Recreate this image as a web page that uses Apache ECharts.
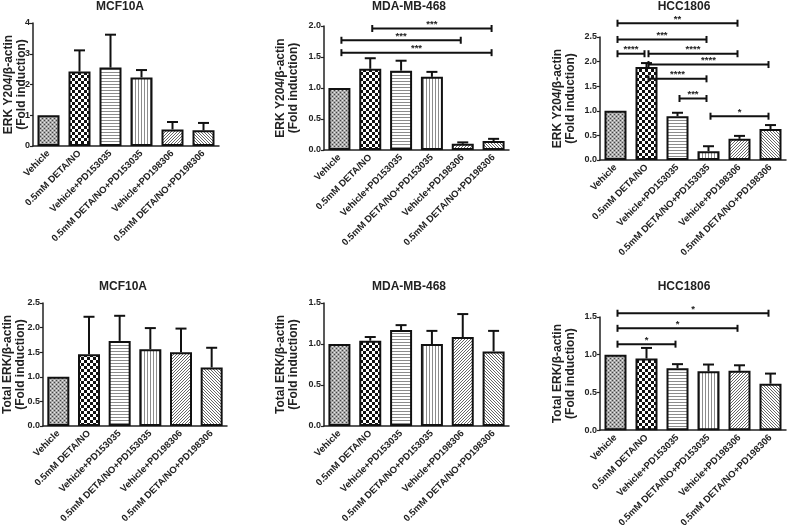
<!DOCTYPE html>
<html>
<head>
<meta charset="utf-8">
<script src="https://cdn.jsdelivr.net/npm/echarts@6/dist/echarts.min.js"></script>
<style>
  html, body { margin: 0; padding: 0; background: #fff; }
  #chart { width: 787px; height: 530px; }
</style>
</head>
<body>
<div id="chart"></div>
<script>
// treatment groups (x categories)
const groups = ['Vehicle', '0.5mM DETA/NO', 'Vehicle+PD153035', '0.5mM DETA/NO+PD153035', 'Vehicle+PD198306', '0.5mM DETA/NO+PD198306']

// ERK Y204 / beta-actin, mean and SEM
const mcfPhospho = [1.0, 2.42, 2.55, 2.23, 0.54, 0.51]
const mcfPhosphoErr = [0, 0.69, 1.07, 0.24, 0.24, 0.24]
const mdaPhospho = [1.0, 1.31, 1.28, 1.18, 0.1, 0.145]
const mdaPhosphoErr = [0, 0.17, 0.16, 0.08, 0.023, 0.035]
const hccPhospho = [1.0, 1.89, 0.89, 0.18, 0.43, 0.63]
const hccPhosphoErr = [0, 0.08, 0.07, 0.1, 0.06, 0.08]

// total ERK / beta-actin, mean and SEM
const mcfTotal = [1.0, 1.46, 1.73, 1.56, 1.5, 1.19]
const mcfTotalErr = [0, 0.76, 0.51, 0.43, 0.48, 0.4]
const mdaTotal = [1.0, 1.04, 1.17, 1.0, 1.085, 0.91]
const mdaTotalErr = [0, 0.045, 0.06, 0.16, 0.28, 0.25]
const hccTotal = [1.0, 0.95, 0.82, 0.78, 0.786, 0.616]
const hccTotalErr = [0, 0.14, 0.055, 0.09, 0.074, 0.134]

// significance brackets: [from group, to group, height, label]
const mdaPhosphoSig = [[1, 5, 1.96, '***'], [0, 4, 1.77, '***'], [0, 5, 1.57, '***']]
const hccPhosphoSig = [
  [0, 4, 2.78, '**'], [0, 3, 2.45, '***'], [0, 1, 2.16, '****'], [1, 4, 2.16, '****'],
  [1, 5, 1.94, '****'], [1, 3, 1.65, '****'], [2, 3, 1.25, '***'], [3, 5, 0.89, '*']
]
const hccTotalSig = [[0, 5, 1.55, '*'], [0, 4, 1.35, '*'], [0, 2, 1.14, '*']]

const FONT = '"Liberation Sans", Arial, sans-serif'

// fill patterns, one per treatment (like the GraphPad fills)
function makeTile(w, h, draw) {
  const c = document.createElement('canvas')
  c.width = w; c.height = h
  const ctx = c.getContext('2d')
  ctx.fillStyle = '#fff'
  ctx.fillRect(0, 0, w, h)
  draw(ctx)
  return { image: c, repeat: 'repeat' }
}
const fills = [
  makeTile(4, 4, ctx => {
    ctx.fillStyle = '#a8a8a8'; ctx.fillRect(0, 0, 4, 4)
    ctx.fillStyle = '#444'
    ctx.fillRect(0, 0, 1, 1); ctx.fillRect(2, 2, 1, 1)
    ctx.fillStyle = '#e8e8e8'
    ctx.fillRect(2, 0, 1, 1); ctx.fillRect(0, 2, 1, 1)
  }),
  makeTile(6, 6, ctx => {
    ctx.fillStyle = '#111'
    ctx.fillRect(0, 0, 3, 3); ctx.fillRect(3, 3, 3, 3)
  }),
  makeTile(3, 3, ctx => { ctx.fillStyle = '#8c8c8c'; ctx.fillRect(0, 0, 3, 1) }),
  makeTile(3, 3, ctx => { ctx.fillStyle = '#8c8c8c'; ctx.fillRect(0, 0, 1, 3) }),
  makeTile(3, 3, ctx => {
    ctx.fillStyle = '#666'
    ctx.fillRect(2, 0, 1, 1); ctx.fillRect(1, 1, 1, 1); ctx.fillRect(0, 2, 1, 1)
  }),
  makeTile(3, 3, ctx => {
    ctx.fillStyle = '#666'
    ctx.fillRect(0, 0, 1, 1); ctx.fillRect(1, 1, 1, 1); ctx.fillRect(2, 2, 1, 1)
  })
]

const phosName = 'ERK Y204/\u03b2-actin\n(Fold induction)'
const totalName = 'Total ERK/\u03b2-actin\n(Fold induction)'

const panels = [
  { title: 'MCF10A', name: phosName, values: mcfPhospho, err: mcfPhosphoErr, sig: [], max: 4, interval: 1, digits: 0,
    grid: { left: 33, top: 23, width: 186, height: 123 }, gap: 5, titleX: 120, titleY: 1 },
  { title: 'MDA-MB-468', name: phosName, values: mdaPhospho, err: mdaPhosphoErr, sig: mdaPhosphoSig, max: 2, interval: 0.5, digits: 1,
    grid: { left: 324, top: 26, width: 185, height: 124 }, gap: 24, titleX: 409, titleY: 1 },
  { title: 'HCC1806', name: phosName, values: hccPhospho, err: hccPhosphoErr, sig: hccPhosphoSig, max: 2.5, interval: 0.5, digits: 1,
    grid: { left: 600, top: 37, width: 186, height: 123 }, gap: 23, titleX: 684, titleY: 1 },
  { title: 'MCF10A', name: totalName, values: mcfTotal, err: mcfTotalErr, sig: [], max: 2.5, interval: 0.5, digits: 1,
    grid: { left: 41, top: 303, width: 186, height: 123 }, gap: 16, titleX: 123, titleY: 281 },
  { title: 'MDA-MB-468', name: totalName, values: mdaTotal, err: mdaTotalErr, sig: [], max: 1.5, interval: 0.5, digits: 1,
    grid: { left: 324, top: 303, width: 185, height: 123 }, gap: 24, titleX: 409, titleY: 281 },
  { title: 'HCC1806', name: totalName, values: hccTotal, err: hccTotalErr, sig: hccTotalSig, max: 1.5, interval: 0.5, digits: 1,
    grid: { left: 600, top: 317, width: 186, height: 123 }, gap: 23, titleX: 684, titleY: 281 }
]

const option = {
  animation: false,
  backgroundColor: '#fff',
  textStyle: { fontFamily: FONT },
  title: [], grid: [], xAxis: [], yAxis: [], series: []
}

panels.forEach((p, i) => {
  option.title.push({
    text: p.title, left: p.titleX, top: p.titleY, textAlign: 'center', padding: 0,
    textStyle: { fontSize: 12, fontWeight: 'bold', color: '#222', fontFamily: FONT }
  })
  option.grid.push(p.grid)
  option.xAxis.push({
    type: 'category', gridIndex: i, data: groups,
    axisLine: { lineStyle: { color: '#222', width: 1.5 } },
    axisTick: { alignWithLabel: true, length: 3, lineStyle: { color: '#222', width: 1.2 } },
    axisLabel: { interval: 0, rotate: 45, margin: 6, fontSize: 9.5, fontWeight: 'bold', color: '#222', fontFamily: FONT }
  })
  option.yAxis.push({
    type: 'value', gridIndex: i, min: 0, max: p.max, interval: p.interval,
    name: p.name, nameLocation: 'middle', nameRotate: 90, nameGap: p.gap, nameMoveOverlap: false,
    nameTextStyle: { fontSize: 12, fontWeight: 'bold', lineHeight: 13, color: '#222', fontFamily: FONT },
    splitLine: { show: false },
    axisLine: { show: true, lineStyle: { color: '#222', width: 1.5 } },
    axisTick: { show: true, length: 3, lineStyle: { color: '#222', width: 1.2 } },
    axisLabel: { fontSize: 9, fontWeight: 'bold', color: '#222', margin: 3, fontFamily: FONT,
      formatter: v => v.toFixed(p.digits) }
  })
  // bars
  option.series.push({
    type: 'bar', xAxisIndex: i, yAxisIndex: i, barWidth: 22,
    data: p.values.map((v, k) => ({ value: v, itemStyle: { color: fills[k] } })),
    itemStyle: { borderColor: '#111', borderWidth: 2 }
  })
  // error bars (upper half only)
  option.series.push({
    type: 'custom', xAxisIndex: i, yAxisIndex: i, z: 3,
    data: p.values.map((v, k) => [k, v, v + p.err[k]]),
    renderItem: (params, api) => {
      if (api.value(2) <= api.value(1)) return null
      const lo = api.coord([api.value(0), api.value(1)])
      const hi = api.coord([api.value(0), api.value(2)])
      const st = { stroke: '#111', lineWidth: 2 }
      return {
        type: 'group',
        children: [
          { type: 'line', shape: { x1: lo[0], y1: lo[1], x2: hi[0], y2: hi[1] }, style: st },
          { type: 'line', shape: { x1: hi[0] - 5.5, y1: hi[1], x2: hi[0] + 5.5, y2: hi[1] }, style: st }
        ]
      }
    }
  })
  // significance brackets
  if (p.sig.length) {
    option.series.push({
      type: 'custom', xAxisIndex: i, yAxisIndex: i, z: 4, clip: false,
      data: p.sig.map(s => [s[0], s[1], s[2], s[3]]),
      renderItem: (params, api) => {
        const s = p.sig[params.dataIndex]
        const a = api.coord([s[0], s[2]])
        const b = api.coord([s[1], s[2]])
        const st = { stroke: '#111', lineWidth: 2 }
        return {
          type: 'group',
          children: [
            { type: 'line', shape: { x1: a[0] + 2, y1: a[1], x2: b[0] - 2, y2: b[1] }, style: st },
            { type: 'line', shape: { x1: a[0] + 2, y1: a[1] - 3.5, x2: a[0] + 2, y2: a[1] + 3.5 }, style: st },
            { type: 'line', shape: { x1: b[0] - 2, y1: b[1] - 3.5, x2: b[0] - 2, y2: b[1] + 3.5 }, style: st },
            { type: 'text', style: { text: s[3], x: (a[0] + b[0]) / 2, y: a[1] + 1, align: 'center', verticalAlign: 'bottom',
              fontSize: 9.5, fontWeight: 'bold', fill: '#222', fontFamily: FONT } }
          ]
        }
      }
    })
  }
})

const chart = echarts.init(document.getElementById('chart'), null, { renderer: 'canvas' })
chart.setOption(option)
</script>
</body>
</html>
